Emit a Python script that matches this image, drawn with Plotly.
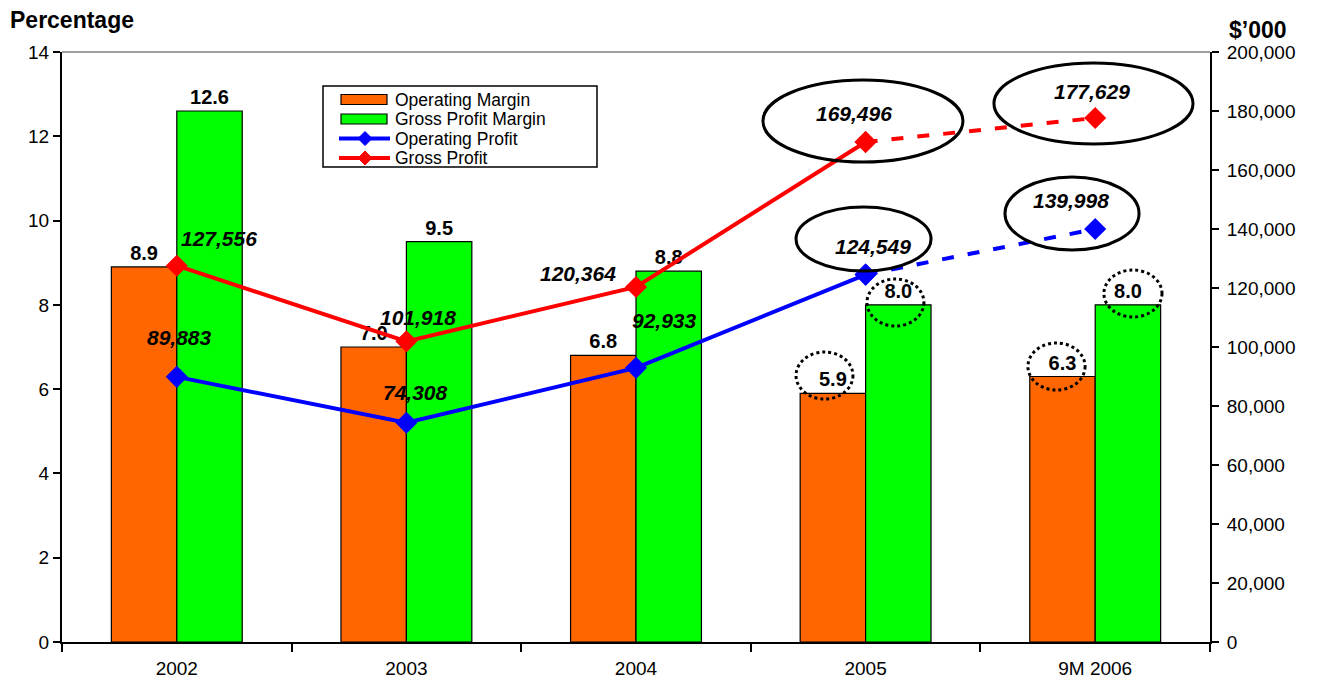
import plotly.graph_objects as go

categories = ["2002", "2003", "2004", "2005", "9M 2006"]
operating_margin = [8.9, 7.0, 6.8, 5.9, 6.3]
gross_profit_margin = [12.6, 9.5, 8.8, 8.0, 8.0]
operating_profit = [89883, 74308, 92933, 124549, 139998]
gross_profit = [127556, 101918, 120364, 169496, 177629]
left_ticks = [0, 2, 4, 6, 8, 10, 12, 14]
right_ticks = list(range(0, 200001, 20000))
legend_names = ["Operating Margin", "Gross Profit Margin", "Operating Profit", "Gross Profit"]

xpos = list(range(len(categories)))
FONT = "Liberation Sans, Arial, sans-serif"
ORANGE = "#FF6600"
GREEN = "#00FF00"
BLUE = "#0000FF"
RED = "#FF0000"

fig = go.Figure()

fig.add_trace(go.Bar(
    name=legend_names[0], x=xpos, y=operating_margin,
    marker=dict(color=ORANGE, line=dict(color="black", width=1.2)),
    text=[f"{v:.1f}" for v in operating_margin], textposition="outside",
    constraintext="none",
    textfont=dict(family=FONT, size=20, color="black", weight="bold"),
    cliponaxis=False, yaxis="y", showlegend=False))
fig.add_trace(go.Bar(
    name=legend_names[1], x=xpos, y=gross_profit_margin,
    marker=dict(color=GREEN, line=dict(color="black", width=1.2)),
    text=[f"{v:.1f}" for v in gross_profit_margin], textposition="outside",
    constraintext="none",
    textfont=dict(family=FONT, size=20, color="black", weight="bold"),
    cliponaxis=False, yaxis="y", showlegend=False))

for name, vals, col in [(legend_names[2], operating_profit, BLUE),
                        (legend_names[3], gross_profit, RED)]:
    fig.add_trace(go.Scatter(
        name=name, x=xpos[:4], y=vals[:4], yaxis="y2", mode="lines+markers",
        line=dict(color=col, width=4), marker=dict(symbol="diamond", size=17, color=col),
        cliponaxis=False, showlegend=False))
    fig.add_trace(go.Scatter(
        name=name, x=xpos[3:], y=vals[3:], yaxis="y2", mode="lines+markers",
        line=dict(color=col, width=4, dash="12px,14px"),
        marker=dict(symbol="diamond", size=17, color=col),
        showlegend=False, cliponaxis=False))

# label offsets (pixels) for line value labels
op_shift = [(3, 39), (9, 30), (28, 47), (7, 28), (-24, 29)]
gp_shift = [(42, 27), (12, 24), (-58, 13), (-12, 28), (-3, 26)]
annotations = []
for vals, shifts in [(operating_profit, op_shift), (gross_profit, gp_shift)]:
    for xi, v, (dx, dy) in zip(xpos, vals, shifts):
        annotations.append(dict(
            x=xi, y=v, xref="x", yref="y2", text=f"<b><i>{v:,}</i></b>",
            showarrow=False, xshift=dx, yshift=dy,
            font=dict(family=FONT, size=21, color="black")))

annotations.append(dict(x=0, y=1, xref="paper", yref="paper",
                        text="<b>Percentage</b>", showarrow=False, xanchor="left",
                        yanchor="middle", xshift=8 - 62, yshift=52 - 20,
                        font=dict(family=FONT, size=23, color="black")))
annotations.append(dict(x=1.0, y=1, xref="paper", yref="paper",
                        text="<b>$’000</b>", showarrow=False, xanchor="left",
                        yanchor="middle", xshift=17, yshift=52 - 30,
                        font=dict(family=FONT, size=23, color="black")))

shapes = []
# solid ellipses around line labels (category index, y2 value)
ellipses = [(2.553, 3.424, 162712, 190508),
            (3.559, 4.426, 168814, 196270),
            (3.607, 4.191, 132880, 157627),
            (2.697, 3.285, 125762, 147458)]
for x0, x1, y0, y1 in ellipses:
    shapes.append(dict(type="circle", xref="x", yref="y2", x0=x0, x1=x1, y0=y0, y1=y1,
                       line=dict(color="black", width=3)))
# dotted circles around bar labels (category index, left-axis value)
dotted = [(2.697, 2.945, 5.766, 6.881),
          (3.006, 3.254, 7.498, 8.614),
          (3.707, 3.956, 5.980, 7.095),
          (4.038, 4.291, 7.712, 8.827)]
for x0, x1, y0, y1 in dotted:
    shapes.append(dict(type="circle", xref="x", yref="y", x0=x0, x1=x1, y0=y0, y1=y1,
                       line=dict(color="black", width=3, dash="dot")))
# top frame line
shapes.append(dict(type="line", xref="paper", yref="paper", x0=0, x1=1, y0=1, y1=1,
                   line=dict(color="#808080", width=1.5)))

# custom legend (paper coordinates)
W, H = 1148.0, 590.0
def px(x):
    return (x - 62) / W
def py(y):
    return (642 - y) / H

shapes.append(dict(type="rect", xref="paper", yref="paper", x0=px(323), x1=px(597),
                   y0=py(167), y1=py(86), line=dict(color="black", width=1.5),
                   fillcolor="white", layer="above"))
row_y = [99.5, 119, 138.5, 158]
for name, col, ry in zip(legend_names[:2], [ORANGE, GREEN], row_y[:2]):
    shapes.append(dict(type="rect", xref="paper", yref="paper", x0=px(341), x1=px(387),
                       y0=py(ry + 5), y1=py(ry - 5), fillcolor=col,
                       line=dict(color="black", width=1.2), layer="above"))
for name, col, ry in zip(legend_names[2:], [BLUE, RED], row_y[2:]):
    shapes.append(dict(type="line", xref="paper", yref="paper", x0=px(339), x1=px(390),
                       y0=py(ry), y1=py(ry), line=dict(color=col, width=4), layer="above"))
    shapes.append(dict(type="path", xref="paper", yref="paper", xsizemode="pixel",
                       ysizemode="pixel", xanchor=px(365), yanchor=py(ry),
                       path="M -7 0 L 0 7 L 7 0 L 0 -7 Z", fillcolor=col,
                       line=dict(color=col, width=1), layer="above"))
for name, ry in zip(legend_names, row_y):
    annotations.append(dict(x=px(393), y=py(ry), xref="paper", yref="paper", text=name,
                            showarrow=False, xanchor="left", yanchor="middle",
                            font=dict(family=FONT, size=17.5, color="black")))

boundaries = [i - 0.5 for i in range(len(categories) + 1)]

fig.update_layout(
    width=1325, height=681,
    margin=dict(l=62, r=115, t=52, b=39, autoexpand=False),
    paper_bgcolor="white", plot_bgcolor="white",
    barmode="group", bargap=0.43, bargroupgap=0,
    font=dict(family=FONT, size=19, color="black"),
    showlegend=False,
    xaxis=dict(range=[-0.5, len(categories) - 0.5], tickvals=xpos, ticktext=categories,
               showline=True, linecolor="black", linewidth=2, automargin=False,
               ticks="", showgrid=False, zeroline=False, ticklabelstandoff=8,
               minor=dict(tickvals=boundaries, ticks="outside", ticklen=8, tickwidth=1.5,
                          tickcolor="black", showgrid=False),
               tickfont=dict(family=FONT, size=19, color="black")),
    yaxis=dict(range=[0, 14], tickvals=left_ticks, showline=True, linecolor="black",
               linewidth=2, ticks="outside", ticklen=7, tickwidth=1.5, tickcolor="black",
               showgrid=False, zeroline=False, automargin=False,
               tickfont=dict(family=FONT, size=19, color="black")),
    yaxis2=dict(range=[0, 200000], tickvals=right_ticks, tickformat=",d",
                overlaying="y", side="right", showline=True, linecolor="black",
                linewidth=2, ticks="outside", ticklen=7, tickwidth=1.5, tickcolor="black",
                showgrid=False, zeroline=False, ticklabelstandoff=4, automargin=False,
                tickfont=dict(family=FONT, size=19, color="black")),
    annotations=annotations, shapes=shapes,
)

fig.write_html("out.html")
